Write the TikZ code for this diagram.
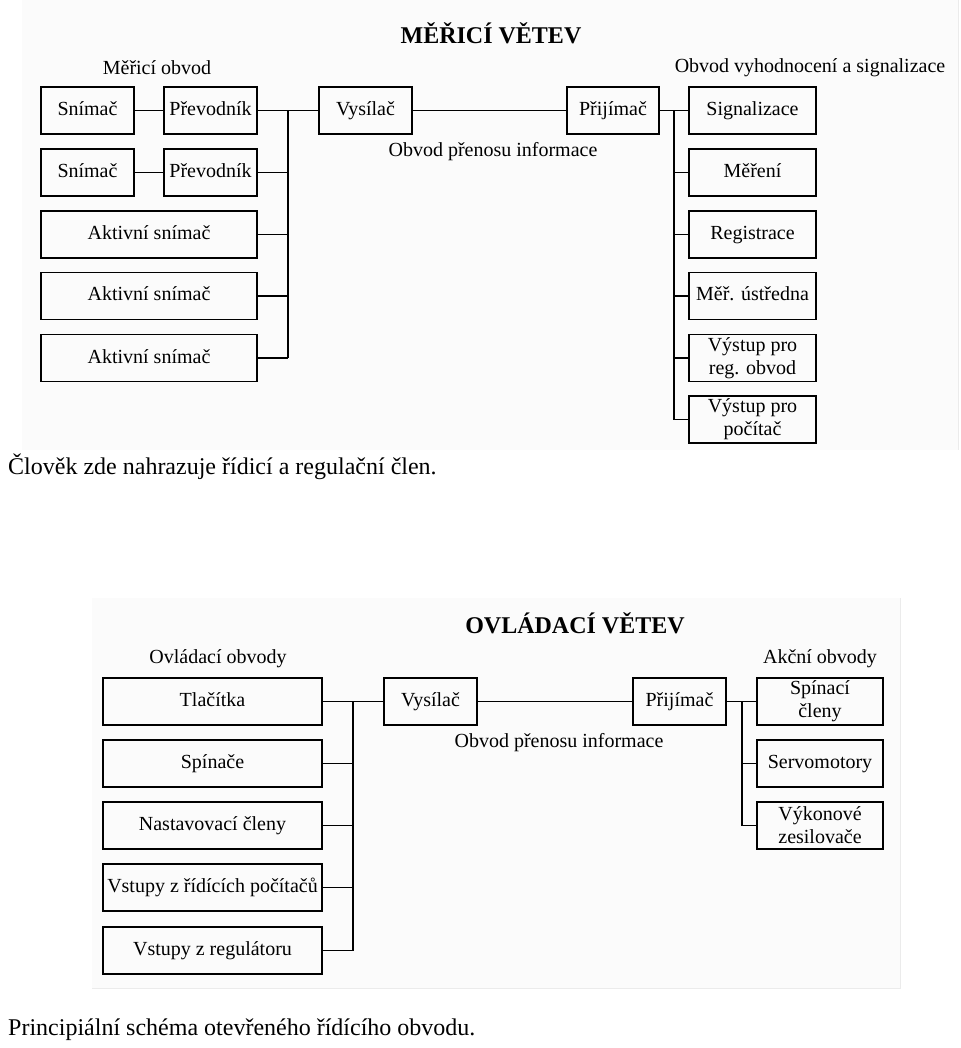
\documentclass[tikz,border=0pt]{standalone}
\usepackage{fontspec}
\setmainfont{Liberation Serif}
\begin{document}
\begin{tikzpicture}[x=1pt,y=-1pt,
  bx/.style={draw, line width=1.8pt, inner sep=0pt, align=center,
    font=\fontsize{20}{23}\selectfont, minimum height=47pt},
  bxo/.style={bx, text height=14pt, text depth=4pt},
  ln/.style={line width=1.8pt},
  lbl/.style={inner sep=0pt, font=\fontsize{20}{20}\selectfont},
  ttl/.style={inner sep=0pt, font=\fontsize{24}{24}\selectfont\bfseries},
  capt/.style={inner sep=0pt, anchor=west, font=\fontsize{24}{24}\selectfont}]
\useasboundingbox (0,0) rectangle (960,1048);
% faint image backgrounds
\fill[black!1.5] (22,0) rectangle (958,450);
\draw[black!8, line width=1pt] (958,0) -- (958,450);
\fill[black!1.5] (92,598) rectangle (900,988);
\draw[black!8, line width=1pt] (900,598) -- (900,988) -- (92,988);

% ===== top: MĚŘICÍ VĚTEV =====
\node[ttl] (t1) at (491,33) {MĚŘICÍ VĚTEV};
\node[lbl] (l1) at (157,68) {Měřicí obvod};
\node[lbl] (l2) at (810,68) {Obvod vyhodnocení a signalizace};
\node[lbl] (l3) at (493,152) {Obvod přenosu informace};

\node[bxo, minimum width=93pt] (s1) at (87.5,110.5) {Snímač};
\node[bxo, minimum width=93pt] (p1) at (210.5,110.5) {Převodník};
\node[bxo, minimum width=93pt] (s2) at (87.5,172.5) {Snímač};
\node[bxo, minimum width=93pt] (p2) at (210.5,172.5) {Převodník};
\node[bxo, minimum width=216pt] (a1) at (149,234.5) {Aktivní snímač};
\node[bxo, minimum width=216pt] (a2) at (149,296) {Aktivní snímač};
\node[bxo, minimum width=216pt] (a3) at (149,358) {Aktivní snímač};
\node[bxo, minimum width=93pt] (vys) at (365.5,110.5) {Vysílač};
\node[bxo, minimum width=92pt] (pri) at (613,110.5) {Přijímač};
\node[bxo, minimum width=127pt] (r1) at (752.5,110.5) {Signalizace};
\node[bxo, minimum width=127pt] (r2) at (752.5,172.5) {Měření};
\node[bxo, minimum width=127pt] (r3) at (752.5,234.5) {Registrace};
\node[bxo, minimum width=127pt] (r4) at (752.5,296) {Měř. ústředna};
\node[bx, minimum width=127pt] (r5) at (752.5,358) {Výstup pro\\reg. obvod};
\node[bx, minimum width=127pt] (r6) at (752.5,419.5) {Výstup pro\\počítač};

\coordinate (bl) at (288,0);
\coordinate (br) at (674,0);
\draw[ln] (s1.east) -- (p1.west);
\draw[ln] (s2.east) -- (p2.west);
\draw[ln] (p1.east) -- (vys.west);
\draw[ln] (vys.east) -- (pri.west);
\draw[ln] (pri.east) -- (r1.west);
\draw[ln] (p1.east -| bl) -- (a3.east -| bl);
\foreach \n in {p2,a1,a2,a3} \draw[ln] (\n.east) -- (\n.east -| bl);
\draw[ln] (r1.west -| br) -- (r6.west -| br);
\foreach \n in {r2,r3,r4,r5,r6} \draw[ln] (\n.west -| br) -- (\n.west);

\node[capt] (c1) at (8,467) {Člověk zde nahrazuje řídicí a regulační člen.};

% ===== bottom: OVLÁDACÍ VĚTEV =====
\node[ttl] (t2) at (575,623) {OVLÁDACÍ VĚTEV};
\node[lbl] (m1) at (218,659) {Ovládací obvody};
\node[lbl] (m2) at (820,659) {Akční obvody};
\node[lbl] (m3) at (559,743) {Obvod přenosu informace};

\node[bxo, minimum width=219pt] (o1) at (212.5,701.5) {Tlačítka};
\node[bxo, minimum width=219pt] (o2) at (212.5,763.5) {Spínače};
\node[bxo, minimum width=219pt] (o3) at (212.5,825.5) {Nastavovací členy};
\node[bxo, minimum width=219pt] (o4) at (212.5,887.5) {Vstupy z řídících počítačů};
\node[bxo, minimum width=219pt] (o5) at (212.5,950.5) {Vstupy z regulátoru};
\node[bxo, minimum width=93pt] (vys2) at (430.5,701.5) {Vysílač};
\node[bxo, minimum width=93pt] (pri2) at (679.5,701.5) {Přijímač};
\node[bx, minimum width=126pt] (k1) at (820,701.5) {Spínací\\členy};
\node[bxo, minimum width=126pt] (k2) at (820,763.5) {Servomotory};
\node[bx, minimum width=126pt] (k3) at (820,825.5) {Výkonové\\zesilovače};

\coordinate (bl2) at (353,0);
\coordinate (br2) at (742,0);
\draw[ln] (o1.east) -- (vys2.west);
\draw[ln] (vys2.east) -- (pri2.west);
\draw[ln] (pri2.east) -- (k1.west);
\draw[ln] (o1.east -| bl2) -- (o5.east -| bl2);
\foreach \n in {o2,o3,o4,o5} \draw[ln] (\n.east) -- (\n.east -| bl2);
\draw[ln] (k1.west -| br2) -- (k3.west -| br2);
\foreach \n in {k2,k3} \draw[ln] (\n.west -| br2) -- (\n.west);

\node[capt] (c2) at (8,1030) {Principiální schéma otevřeného řídícího obvodu.};
\end{tikzpicture}
\end{document}
